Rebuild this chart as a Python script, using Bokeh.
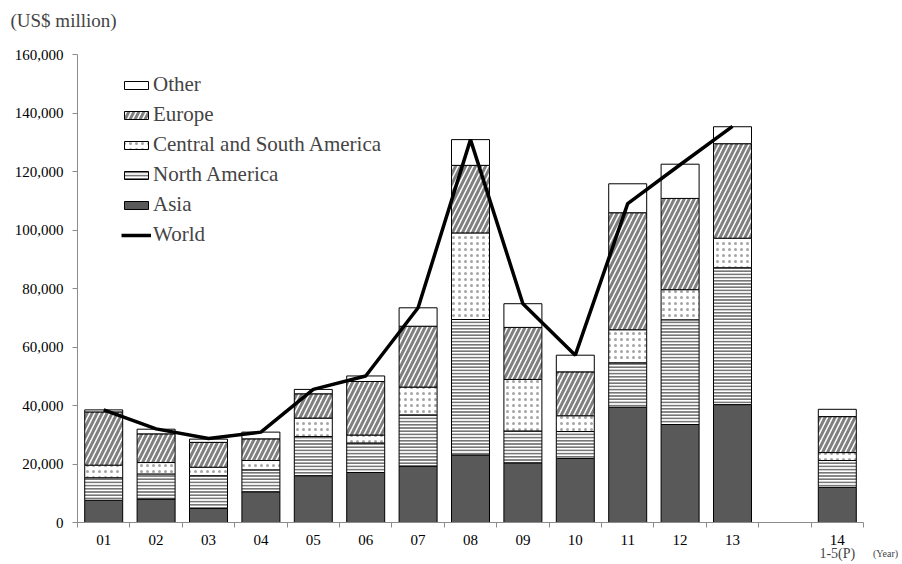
from bokeh.plotting import figure
from bokeh.models import (ColumnDataSource, Range1d, FixedTicker, NumeralTickFormatter,
                          Legend, LegendItem, Label, LinearAxis)
from bokeh.embed import file_html
from bokeh.resources import INLINE

# ---------------- data (US$ million) ----------------
years = ["01", "02", "03", "04", "05", "06", "07", "08", "09", "10", "11", "12", "13", "14"]
year_sub = {"14": "1-5(P)"}
asia = [7600, 8000, 4800, 10500, 16000, 17100, 19300, 23100, 20400, 21900, 39400, 33500, 40300, 12000]
north_america = [7700, 8600, 11200, 7500, 13400, 10100, 17500, 46300, 10900, 9200, 15200, 35800, 46800, 9200]
central_south_america = [4300, 3900, 2900, 3200, 6300, 2700, 9500, 29600, 17600, 5400, 11300, 10300, 10100, 2700]
europe = [18200, 9800, 8500, 7400, 8300, 18300, 20800, 23100, 17800, 15000, 40000, 31200, 32300, 12300]
other = [700, 1600, 1100, 2300, 1500, 1900, 6300, 8800, 8100, 5700, 9900, 11700, 5800, 2500]
world_years = ["01", "02", "03", "04", "05", "06", "07", "08", "09", "10", "11", "12", "13"]
world = [38500, 32000, 28700, 30900, 45500, 50100, 73400, 130900, 74800, 57200, 109000, 122300, 135400]
y_ticks = [0, 20000, 40000, 60000, 80000, 100000, 120000, 140000, 160000]

# slot layout: one empty slot between 13 and 14
slot_of = {y: (i if i < 13 else i + 1) for i, y in enumerate(years)}
n_slots = 15
x_pos = [slot_of[y] + 0.5 for y in years]

# ---------------- layout (pixels) ----------------
W, H = 902, 564
AXIS_LEFT, AXIS_TOP = 77, 54        # pixel of value axis / of its top value
AXIS_RIGHT, AXIS_Y = 863, 522       # end of category axis / pixel of value 0
y_max = y_ticks[-1]
px_per_val = (AXIS_Y - AXIS_TOP) / y_max
px_per_slot = (AXIS_RIGHT - AXIS_LEFT) / n_slots


def dx(px):   # screen x pixel -> data x
    return (px - AXIS_LEFT) / px_per_slot


def dy(px):   # screen y pixel -> data y
    return (AXIS_Y - px) / px_per_val


FONT = "Liberation Serif"
AXIS_GRAY = "#8c8c8c"

source = ColumnDataSource(dict(x=x_pos, asia=asia, na=north_america, csa=central_south_america,
                               eu=europe, other=other))

p = figure(width=W, height=H, output_backend="svg", toolbar_location=None,
           x_range=Range1d(dx(0), dx(W)), y_range=Range1d(dy(H), dy(0)),
           x_axis_location=None, y_axis_location=None, title_location=None,
           min_border=0)
p.outline_line_color = None
p.grid.visible = False
p.background_fill_color = "white"
p.border_fill_color = "white"

stackers = ["asia", "na", "csa", "eu", "other"]
renderers = p.vbar_stack(
    stackers, x="x", width=0.725, source=source,
    fill_color=["#595959", "white", "white", "white", "white"],
    line_color="black", line_width=1,
    hatch_pattern=[None, "horizontal_line", "dot", "right_diagonal_line", None],
    hatch_color=[None, "#777777", "#a5a5a5", "#808080", None],
    hatch_scale=[1, 3.2, 6, 10, 1],
    hatch_weight=[1, 2.0, 1, 3.0, 1],
)
r_asia, r_na, r_csa, r_eu, r_other = renderers

line_src = ColumnDataSource(dict(x=[slot_of[y] + 0.5 for y in world_years], y=world))
r_world = p.line("x", "y", source=line_src, line_color="black", line_width=3.5)

# ---------------- axes ----------------
xa = LinearAxis(fixed_location=0, bounds=(0, n_slots))
p.add_layout(xa, "below")
xa.ticker = FixedTicker(ticks=x_pos, minor_ticks=list(range(n_slots + 1)))
xa.major_label_overrides = {x: y for x, y in zip(x_pos, years)}
xa.major_tick_out = 0
xa.major_tick_in = 0
xa.minor_tick_out = 5
xa.minor_tick_in = 0
xa.minor_tick_line_color = AXIS_GRAY
xa.axis_line_color = AXIS_GRAY
xa.major_label_text_font = FONT
xa.major_label_text_font_size = "15px"
xa.major_label_text_color = "black"
xa.major_label_standoff = 7

ya = LinearAxis(fixed_location=0, bounds=(0, y_max))
p.add_layout(ya, "left")
ya.ticker = FixedTicker(ticks=y_ticks)
ya.formatter = NumeralTickFormatter(format="0,0")
ya.major_tick_out = 5
ya.major_tick_in = 0
ya.minor_tick_line_color = None
ya.major_tick_line_color = AXIS_GRAY
ya.axis_line_color = AXIS_GRAY
ya.major_label_text_font = FONT
ya.major_label_text_font_size = "15px"
ya.major_label_text_color = "black"
ya.major_label_standoff = 9

# ---------------- texts ----------------
p.add_layout(Label(x=dx(10), y=dy(20), text="(US$ million)", text_font=FONT,
                   text_font_size="19px", text_align="left", text_baseline="middle"))

sub_y = dy(553)
for yr, sub in year_sub.items():
    p.add_layout(Label(x=slot_of[yr] + 0.5, y=sub_y, text=sub, text_font=FONT,
                       text_font_size="14px", text_align="center", text_baseline="middle"))
p.add_layout(Label(x=dx(885), y=sub_y, text="(Year)", text_font=FONT,
                   text_font_size="10px", text_align="center", text_baseline="middle"))

# ---------------- legend ----------------
legend = Legend(items=[
    LegendItem(label="Other", renderers=[r_other]),
    LegendItem(label="Europe", renderers=[r_eu]),
    LegendItem(label="Central and South America", renderers=[r_csa]),
    LegendItem(label="North America", renderers=[r_na]),
    LegendItem(label="Asia", renderers=[r_asia]),
    LegendItem(label="World", renderers=[r_world]),
], location=(121, H - 247))
legend.label_text_font = FONT
legend.label_text_font_size = "21px"
legend.glyph_width = 30
legend.glyph_height = 10
legend.label_standoff = 2
legend.spacing = 5
legend.padding = 0
legend.margin = 0
legend.border_line_color = None
legend.background_fill_alpha = 0
p.add_layout(legend)

open("out.html", "w").write(file_html(p, INLINE))
